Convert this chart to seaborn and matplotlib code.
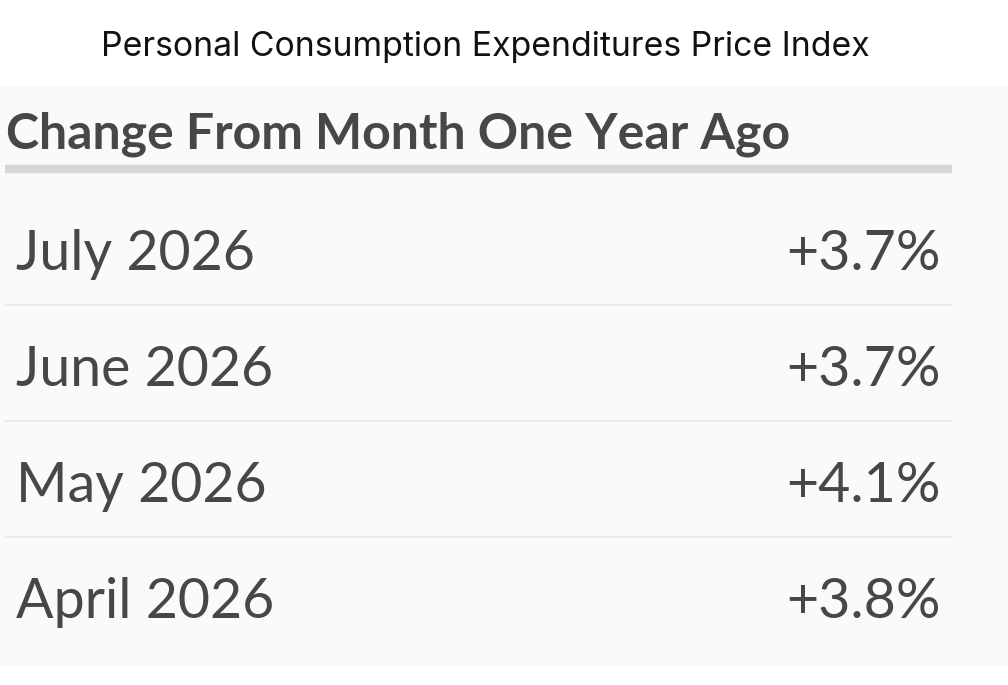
import matplotlib
matplotlib.use("Agg")
import matplotlib.pyplot as plt
from matplotlib.patches import Rectangle
import seaborn as sns

title = "Personal Consumption Expenditures Price Index"
heading = "Change From Month One Year Ago"
months = ["July 2026", "June 2026", "May 2026", "April 2026"]
changes = [3.7, 3.7, 4.1, 3.8]

sns.set_theme(style="white")
plt.rcParams["font.family"] = ["Lato", "DejaVu Sans"]

W, H = 1008, 685
fig = plt.figure(figsize=(W / 100, H / 100), dpi=100)
fig.patch.set_facecolor("white")
ax = fig.add_axes([0, 0, 1, 1])
ax.set_xlim(0, W)
ax.set_ylim(H, 0)
ax.axis("off")

# panel background
ax.add_patch(Rectangle((0, 86), W, 580, facecolor="#fafafa", edgecolor="none", zorder=0))

# title
ax.text(485, 56, title, ha="center", va="baseline", fontsize=24.3,
        family=["Inter", "DejaVu Sans"], color="#111111")

# heading
ax.text(6, 148, heading, ha="left", va="baseline", fontsize=36,
        fontweight="bold", color="#474747")
ax.plot([5, 952], [169, 169], color="#d6d6d6", lw=6, solid_capstyle="butt", zorder=1)

row_h = 116
first_base = 270
for i, (m, v) in enumerate(zip(months, changes)):
    yb = first_base + i * row_h
    ax.text(16, yb, m, ha="left", va="baseline", fontsize=40, color="#474747")
    ax.text(941, yb, f"+{v:.1f}%", ha="right", va="baseline", fontsize=40, color="#474747")
    if i < len(months) - 1:
        ys = yb + 35
        ax.plot([5, 952], [ys, ys], color="#ebebeb", lw=1.5, zorder=1)

fig.savefig("out.png", dpi=100, facecolor="white")
